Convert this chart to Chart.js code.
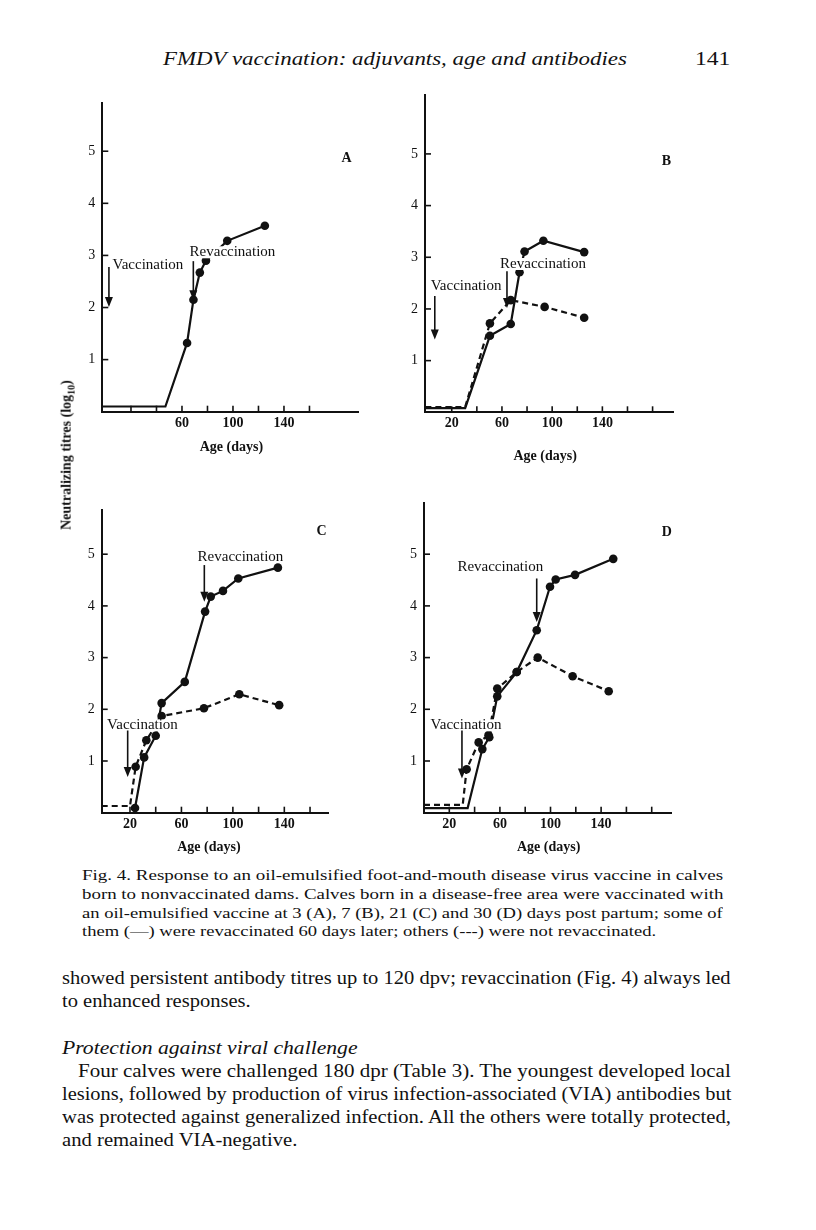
<!DOCTYPE html>
<html>
<head>
<meta charset="utf-8">
<script src="https://cdn.jsdelivr.net/npm/chart.js@4.4.0/dist/chart.umd.min.js"></script>
<style>
  body { margin: 0; background: #fff; width: 816px; height: 1230px; position: relative; overflow: hidden;
         font-family: "Liberation Serif", serif; color: #111; }
  canvas { position: absolute; }
  .t { position: absolute; white-space: nowrap; line-height: 1; transform-origin: 0 50%; }
  .ytitle { position: absolute; left: 68px; top: 455px; white-space: nowrap; font-size: 14px; line-height: 1;
            font-weight: bold; transform: translate(-50%, -50%) rotate(-90deg); }
</style>
</head>
<body>
<canvas id="chartA" width="370" height="390" style="left:20px;top:75px"></canvas>
<canvas id="chartB" width="310" height="390" style="left:395px;top:75px"></canvas>
<canvas id="chartC" width="370" height="385" style="left:20px;top:480px"></canvas>
<canvas id="chartD" width="310" height="385" style="left:395px;top:480px"></canvas>
<div class="ytitle">Neutralizing titres (log<sub style="font-size:10px">10</sub>)</div>

<script>
// ---- data (age in days, titre in log10) ----
var yTicks = [1, 2, 3, 4, 5];
var xTicksA = [20, 40, 60, 80, 100, 120, 140, 160];
var xLabelsA = [60, 100, 140];
var xTicksB = [20, 40, 60, 80, 100, 120, 140, 160, 180];
var xTicksC = [20, 40, 60, 80, 100, 120, 140, 160];
var xTicksD = [20, 40, 60, 80, 100, 120, 140, 160, 180];
var xLabelsBCD = [20, 60, 100, 140];

// A: vaccinated at 3 days, all revaccinated
var aSolidBaseX = [-2.5, 47];
var aSolidBaseY = [0.1, 0.1];
var aSolidX = [64, 69, 74, 78.8, 95.5, 125];
var aSolidY = [1.32, 2.15, 2.67, 2.9, 3.28, 3.57];

// B: vaccinated at 7 days
var bSolidBaseX = [-1, 30.7];
var bSolidBaseY = [0.08, 0.08];
var bSolidX = [50.4, 67, 74, 78, 93, 125.5];
var bSolidY = [1.48, 1.71, 2.71, 3.11, 3.32, 3.1];
var bDashBaseX = [-1, 30.7];
var bDashBaseY = [0.1, 0.1];
var bDashX = [50.4, 67, 94, 125.5];
var bDashY = [1.72, 2.17, 2.04, 1.83];

// C: vaccinated at 21 days
var cSolidBaseX = [];
var cSolidBaseY = [];
var cSolidX = [23.9, 31, 40, 44.6, 62.6, 78.4, 82.8, 92.3, 104.2, 135];
var cSolidY = [0.09, 1.07, 1.49, 2.12, 2.53, 3.89, 4.18, 4.29, 4.53, 4.74];
var cDashBaseX = [-2, 20];
var cDashBaseY = [0.13, 0.13];
var cDashX = [24.4, 32.7, 44.6, 77.5, 105, 136];
var cDashY = [0.89, 1.4, 1.87, 2.02, 2.29, 2.08];

// D: vaccinated at 30 days
var dSolidBaseX = [0, 34.5];
var dSolidBaseY = [0.09, 0.09];
var dSolidX = [46.1, 51.6, 57.9, 73.3, 89.1, 99.6, 104.1, 119.4, 149.6];
var dSolidY = [1.23, 1.46, 2.25, 2.72, 3.53, 4.37, 4.51, 4.6, 4.91];
var dDashBaseX = [0, 30.6];
var dDashBaseY = [0.15, 0.15];
var dDashX = [33.7, 43.2, 51, 57.9, 73.3, 89.9, 117.5, 146];
var dDashY = [0.84, 1.36, 1.5, 2.4, 2.72, 3.0, 2.64, 2.35];

var INK = '#111';
var FONT = '"Liberation Serif", serif';
Chart.defaults.font.family = FONT;
Chart.defaults.font.size = 14;
Chart.defaults.color = INK;

function lineSet(baseX, baseY, x, y, dashed) {
  var pts = [];
  var n = baseX.length;
  for (var i = 0; i < n; i++) pts.push({x: baseX[i], y: baseY[i]});
  for (var j = 0; j < x.length; j++) pts.push({x: x[j], y: y[j]});
  return {
    data: pts,
    borderColor: INK,
    borderWidth: 2.2,
    borderDash: dashed ? [6, 4] : [],
    pointRadius: function(c) { return c.dataIndex < n ? 0 : 4.3; },
    pointBackgroundColor: INK,
    pointBorderWidth: 0,
    pointHoverRadius: 0,
    tension: 0,
    fill: false
  };
}

function decorPlugin(p) {
  return {
    id: 'decor',
    afterDatasetsDraw: function(chart) {
      var ctx = chart.ctx, xs = chart.scales.x, ys = chart.scales.y, a = chart.chartArea;
      ctx.save();
      ctx.strokeStyle = INK;
      ctx.fillStyle = INK;
      ctx.lineWidth = 1.6;
      // inward tick marks
      p.xTicks.forEach(function(v) {
        var px = xs.getPixelForValue(v);
        ctx.beginPath(); ctx.moveTo(px, a.bottom); ctx.lineTo(px, a.bottom - 6); ctx.stroke();
      });
      yTicks.forEach(function(v) {
        var py = ys.getPixelForValue(v);
        ctx.beginPath(); ctx.moveTo(a.left, py); ctx.lineTo(a.left + 6, py); ctx.stroke();
      });
      // labels with white backing
      ctx.font = '15px ' + FONT;
      ctx.textAlign = 'center';
      ctx.textBaseline = 'middle';
      p.notes.forEach(function(n) {
        var px = xs.getPixelForValue(n.x), py = ys.getPixelForValue(n.y);
        var w = ctx.measureText(n.text).width;
        ctx.fillStyle = '#fff';
        ctx.fillRect(px - w / 2 - 1, py - 6, w + 2, 12);
        ctx.fillStyle = INK;
        ctx.fillText(n.text, px, py);
      });
      // arrows
      p.arrows.forEach(function(r) {
        var px = xs.getPixelForValue(r.x), y1 = ys.getPixelForValue(r.from), y2 = ys.getPixelForValue(r.to);
        ctx.beginPath(); ctx.moveTo(px, y1); ctx.lineTo(px, y2 - 8); ctx.stroke();
        ctx.beginPath(); ctx.moveTo(px - 4, y2 - 10); ctx.lineTo(px + 4, y2 - 10); ctx.lineTo(px, y2);
        ctx.closePath(); ctx.fill();
      });
      // panel letter
      ctx.font = 'bold 14px ' + FONT;
      ctx.fillText(p.letter.text, xs.getPixelForValue(p.letter.x), ys.getPixelForValue(p.letter.y));
      // x axis title
      ctx.font = 'bold 14px ' + FONT;
      ctx.fillText('Age (days)', xs.getPixelForValue(p.titleX), a.bottom + p.titleDy);
      ctx.restore();
    }
  };
}

function makePanel(id, box, area, p) {
  var Y_W = 40, X_H = 30;
  return new Chart(document.getElementById(id), {
    type: 'line',
    data: { datasets: p.datasets },
    plugins: [decorPlugin(p)],
    options: {
      responsive: false,
      animation: false,
      devicePixelRatio: 1,
      layout: {
        padding: {
          left: area.left - box.left - Y_W,
          top: area.top - box.top,
          right: box.left + box.w - area.right,
          bottom: box.top + box.h - area.bottom - X_H
        }
      },
      plugins: { legend: { display: false }, tooltip: { enabled: false } },
      scales: {
        x: {
          type: 'linear', min: p.xMin, max: p.xMax,
          afterBuildTicks: function(s) { s.ticks = p.xTicks.map(function(v) { return {value: v}; }); },
          afterFit: function(s) { s.height = X_H; },
          ticks: {
            padding: 3, maxRotation: 0, autoSkip: false,
            font: { weight: 'bold', size: 14 },
            callback: function(v) { return p.xLabels.indexOf(v) >= 0 ? String(v) : ''; }
          },
          grid: { display: true, drawOnChartArea: false, drawTicks: false },
          border: { display: true, color: INK, width: 2 }
        },
        y: {
          type: 'linear', min: 0, max: p.yMax,
          afterBuildTicks: function(s) { s.ticks = yTicks.map(function(v) { return {value: v}; }); },
          afterFit: function(s) { s.width = Y_W; },
          ticks: { padding: 7, font: { size: 14 }, callback: function(v) { return String(v); } },
          grid: { display: true, drawOnChartArea: false, drawTicks: false },
          border: { display: true, color: INK, width: 2 }
        }
      }
    }
  });
}

makePanel('chartA', {left: 20, top: 75, w: 370, h: 390}, {left: 102.3, top: 103.3, right: 358.3, bottom: 411.7}, {
  xMin: -2.5, xMax: 198.3, yMax: 5.92, xTicks: xTicksA, xLabels: xLabelsA,
  datasets: [lineSet(aSolidBaseX, aSolidBaseY, aSolidX, aSolidY, false)],
  notes: [{text: 'Vaccination', x: 33.3, y: 2.81}, {text: 'Revaccination', x: 99.6, y: 3.06}],
  arrows: [{x: 2.7, from: 2.78, to: 2.01}, {x: 68.9, from: 2.89, to: 2.14}],
  letter: {text: 'A', x: 189, y: 4.86}, titleX: 98.8, titleDy: 36
});

makePanel('chartB', {left: 395, top: 75, w: 310, h: 390}, {left: 425, top: 95, right: 673.3, bottom: 412.3}, {
  xMin: -1.3, xMax: 196.5, yMax: 6.14, xTicks: xTicksB, xLabels: xLabelsBCD,
  datasets: [lineSet(bSolidBaseX, bSolidBaseY, bSolidX, bSolidY, false),
             lineSet(bDashBaseX, bDashBaseY, bDashX, bDashY, true)],
  notes: [{text: 'Vaccination', x: 31.4, y: 2.44}, {text: 'Revaccination', x: 92.7, y: 2.87}],
  arrows: [{x: 6.5, from: 2.25, to: 1.41}, {x: 64, from: 2.73, to: 2.02}],
  letter: {text: 'B', x: 191, y: 4.86}, titleX: 94.4, titleDy: 44
});

makePanel('chartC', {left: 20, top: 480, w: 370, h: 385}, {left: 101.7, top: 510, right: 328.3, bottom: 812.7}, {
  xMin: -2, xMax: 174.2, yMax: 5.855, xTicks: xTicksC, xLabels: xLabelsBCD,
  datasets: [lineSet(cSolidBaseX, cSolidBaseY, cSolidX, cSolidY, false),
             lineSet(cDashBaseX, cDashBaseY, cDashX, cDashY, true)],
  notes: [{text: 'Vaccination', x: 29.7, y: 1.69}, {text: 'Revaccination', x: 105.9, y: 4.95}],
  arrows: [{x: 18.2, from: 1.59, to: 0.69}, {x: 77.8, from: 4.79, to: 4.08}],
  letter: {text: 'C', x: 169, y: 5.45}, titleX: 81.4, titleDy: 35
});

makePanel('chartD', {left: 395, top: 480, w: 310, h: 385}, {left: 424, top: 503, right: 671.7, bottom: 812.7}, {
  xMin: 0, xMax: 195.8, yMax: 5.99, xTicks: xTicksD, xLabels: xLabelsBCD,
  datasets: [lineSet(dSolidBaseX, dSolidBaseY, dSolidX, dSolidY, false),
             lineSet(dDashBaseX, dDashBaseY, dDashX, dDashY, true)],
  notes: [{text: 'Vaccination', x: 33.2, y: 1.69}, {text: 'Revaccination', x: 60.3, y: 4.75}],
  arrows: [{x: 30, from: 1.59, to: 0.66}, {x: 89.1, from: 4.53, to: 3.69}],
  letter: {text: 'D', x: 191.9, y: 5.43}, titleX: 98.5, titleDy: 35
});

// ---- page text (running head, caption, body) ----
function putLine(html, left, cy, size, width, style) {
  var el = document.createElement('div');
  el.className = 't';
  el.innerHTML = html;
  el.style.fontSize = size + 'px';
  el.style.left = left + 'px';
  el.style.top = (cy - size * 0.57) + 'px';
  if (style) el.style.cssText += style;
  document.body.appendChild(el);
  var k = width ? width / el.offsetWidth : 1;
  return { el: el, k: k };
}
function block(lines, size, style) {
  var k = 1;
  lines.forEach(function(l) {
    var r = putLine(l[0], l[1], l[2], size, l[3], style);
    if (l[3]) k = r.k;
    r.el.style.transform = 'scaleX(' + k + ')';
  });
}

block([['FMDV vaccination: adjuvants, age and antibodies', 163, 60, 464]], 19, 'font-style:italic;');
block([['141', 695, 60, 36]], 19);

block([
  ['Fig. 4. Response to an oil-emulsified foot-and-mouth disease virus vaccine in calves', 82, 877, 641],
  ['born to nonvaccinated dams. Calves born in a disease-free area were vaccinated with', 82, 896, 641],
  ['an oil-emulsified vaccine at 3 (A), 7 (B), 21 (C) and 30 (D) days post partum; some of', 82, 915, 641],
  ['them (\u2014) were revaccinated 60 days later; others (---) were not revaccinated.', 82, 933, 0]
], 15);

block([
  ['showed persistent antibody titres up to 120 dpv; revaccination (Fig. 4) always led', 62, 980, 669],
  ['to enhanced responses.', 62, 1003, 0]
], 18.5);
block([['Protection against viral challenge', 62, 1050, 296]], 18.5, 'font-style:italic;');
block([
  ['Four calves were challenged 180 dpr (Table 3). The youngest developed local', 78, 1073, 653],
  ['lesions, followed by production of virus infection-associated (VIA) antibodies but', 62, 1096, 669],
  ['was protected against generalized infection. All the others were totally protected,', 62, 1119, 669],
  ['and remained VIA-negative.', 62, 1142, 0]
], 18.5);
</script>
</body>
</html>
